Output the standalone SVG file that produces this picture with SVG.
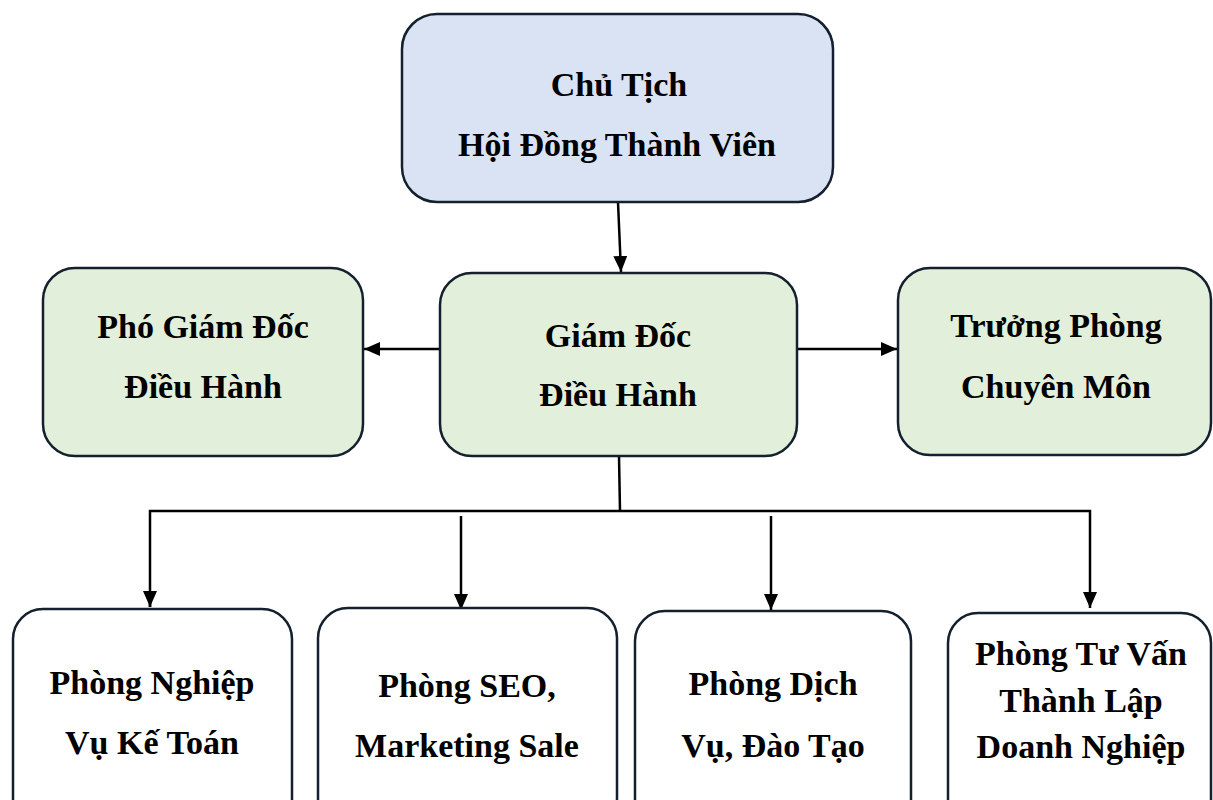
<svg xmlns="http://www.w3.org/2000/svg" width="1213" height="800" viewBox="0 0 1213 800">
<style>
.box{stroke:#14202e;stroke-width:2.5}
.top{fill:#dae3f3}
.mid{fill:#e2efda}
.bot{fill:#ffffff}
.t{font-family:"Liberation Serif","Times New Roman",serif;font-weight:bold;font-size:34px;fill:#000;text-anchor:middle}
.c{stroke:#000;stroke-width:2.5;fill:none}
</style>
<defs>
<marker id="ah" markerUnits="userSpaceOnUse" markerWidth="16" markerHeight="14" refX="16" refY="7" orient="auto">
<path d="M0,0 L16,7 L0,14 Z" fill="#000"/>
</marker>
</defs>
<rect width="1213" height="800" fill="#fff"/>
<g id="connectors">
<line class="c" x1="618" y1="202" x2="621" y2="272" marker-end="url(#ah)"/>
<line class="c" x1="440" y1="349" x2="364" y2="349" marker-end="url(#ah)"/>
<line class="c" x1="797" y1="349" x2="897" y2="349" marker-end="url(#ah)"/>
<line class="c" x1="619" y1="456" x2="620" y2="511"/>
<polyline class="c" points="150,607 150,511 1090,511 1090,608" marker-end="url(#ah)"/>
<line class="c" x1="150" y1="600" x2="150" y2="607" marker-end="url(#ah)"/>
<line class="c" x1="461" y1="516" x2="461" y2="610" marker-end="url(#ah)"/>
<line class="c" x1="771" y1="516" x2="771" y2="610" marker-end="url(#ah)"/>
</g>
<g id="chu-tich">
<rect class="box top" x="402" y="14" width="431" height="188" rx="35"/>
<text class="t" x="619" y="96">Chủ Tịch</text>
<text class="t" x="617" y="156">Hội Đồng Thành Viên</text>
</g>
<g id="pho-giam-doc">
<rect class="box mid" x="43" y="268" width="320" height="188" rx="32"/>
<text class="t" x="203" y="338">Phó Giám Đốc</text>
<text class="t" x="203" y="398">Điều Hành</text>
</g>
<g id="giam-doc">
<rect class="box mid" x="440" y="273" width="357" height="183" rx="32"/>
<text class="t" x="618" y="347">Giám Đốc</text>
<text class="t" x="618" y="406">Điều Hành</text>
</g>
<g id="truong-phong">
<rect class="box mid" x="898" y="268" width="313" height="187" rx="32"/>
<text class="t" x="1056" y="337">Trưởng Phòng</text>
<text class="t" x="1056" y="398">Chuyên Môn</text>
</g>
<g id="ke-toan">
<rect class="box bot" x="13" y="609" width="279" height="220" rx="30"/>
<text class="t" x="152" y="694">Phòng Nghiệp</text>
<text class="t" x="152" y="754">Vụ Kế Toán</text>
</g>
<g id="seo">
<rect class="box bot" x="318" y="608" width="299" height="220" rx="30"/>
<text class="t" x="467" y="697">Phòng SEO,</text>
<text class="t" x="467" y="757">Marketing Sale</text>
</g>
<g id="dich-vu">
<rect class="box bot" x="635" y="611" width="276" height="220" rx="30"/>
<text class="t" x="773" y="695">Phòng Dịch</text>
<text class="t" x="773" y="757">Vụ, Đào Tạo</text>
</g>
<g id="tu-van">
<rect class="box bot" x="948" y="613" width="263" height="220" rx="30"/>
<text class="t" x="1081" y="665">Phòng Tư Vấn</text>
<text class="t" x="1081" y="712">Thành Lập</text>
<text class="t" x="1081" y="758">Doanh Nghiệp</text>
</g>
</svg>
